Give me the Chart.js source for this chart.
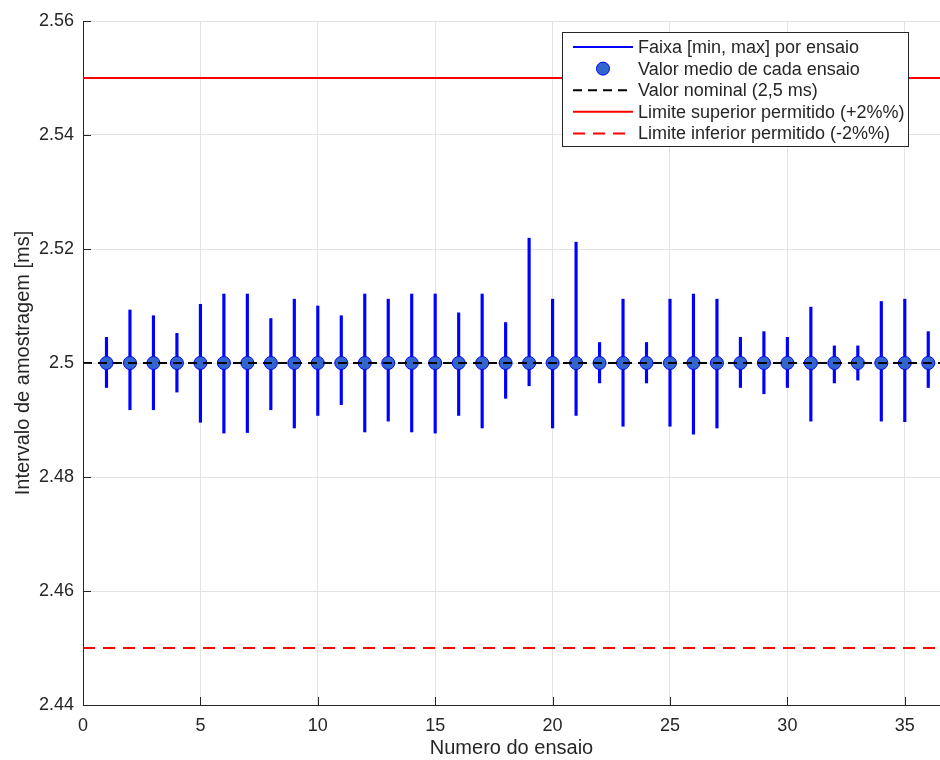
<!DOCTYPE html>
<html>
<head>
<meta charset="utf-8">
<script src="https://cdn.jsdelivr.net/npm/chart.js@4/dist/chart.umd.min.js"></script>
<style>
  html, body { margin: 0; padding: 0; background: #fff; }
  #graf { display: block; }
</style>
</head>
<body>
<canvas id="graf" width="940" height="760"></canvas>
<script>
// Ensaios e valores
const ensaios = [1, 2, 3, 4, 5, 6, 7, 8, 9, 10, 11, 12, 13, 14, 15, 16, 17, 18,
    19, 20, 21, 22, 23, 24, 25, 26, 27, 28, 29, 30, 31, 32, 33, 34, 35, 36]
const minimos = [2.4957, 2.4918, 2.4918, 2.4949, 2.4896, 2.4877, 2.4878, 2.4918, 2.4886,
    2.4908, 2.4927, 2.4879, 2.4898, 2.4879, 2.4877, 2.4908, 2.4886, 2.4938,
    2.4960, 2.4886, 2.4908, 2.4965, 2.4889, 2.4965, 2.4889, 2.4875, 2.4886,
    2.4957, 2.4946, 2.4957, 2.4898, 2.4965, 2.4970, 2.4898, 2.4897, 2.4957]
const maximos = [2.5045, 2.5093, 2.5083, 2.5052, 2.5103, 2.5121, 2.5121, 2.5078, 2.5112,
    2.5100, 2.5083, 2.5121, 2.5112, 2.5121, 2.5121, 2.5088, 2.5121, 2.5071,
    2.5219, 2.5112, 2.5212, 2.5036, 2.5112, 2.5036, 2.5112, 2.5121, 2.5112,
    2.5045, 2.5055, 2.5045, 2.5098, 2.5030, 2.5030, 2.5108, 2.5112, 2.5055]
const medias = [2.5, 2.5, 2.5, 2.5, 2.5, 2.5, 2.5, 2.5, 2.5, 2.5, 2.5, 2.5,
    2.5, 2.5, 2.5, 2.5, 2.5, 2.5, 2.5, 2.5, 2.5, 2.5, 2.5, 2.5,
    2.5, 2.5, 2.5, 2.5, 2.5, 2.5, 2.5, 2.5, 2.5, 2.5, 2.5, 2.5]

const nominal = 2.5
const limiteSup = 2.55
const limiteInf = 2.45

// Eixos
const xMin = 0, xMax = 36.5
const xTicks = [0, 5, 10, 15, 20, 25, 30, 35]
const yMin = 2.44, yMax = 2.56
const yTicks = [2.44, 2.46, 2.48, 2.5, 2.52, 2.54, 2.56]

const legendas = [
    'Faixa [min, max] por ensaio',
    'Valor medio de cada ensaio',
    'Valor nominal (2,5 ms)',
    'Limite superior permitido (+2%%)',
    'Limite inferior permitido (-2%%)'
]

const FONTE = '"Liberation Sans", Arial, Helvetica, sans-serif'
const COR_EIXO = '#262626'

function linhaHorizontal(valor) {
    return [{ x: xMin, y: valor }, { x: xMax, y: valor }]
}

// Ticks para dentro
const eixosPlugin = {
    id: 'eixos',
    afterDatasetsDraw(chart) {
        const { ctx, chartArea: a, scales } = chart
        ctx.save()
        ctx.strokeStyle = COR_EIXO
        ctx.lineWidth = 1
        ctx.beginPath()
        scales.x.ticks.forEach(t => {
            const px = Math.round(scales.x.getPixelForValue(t.value)) + 0.5
            ctx.moveTo(px, a.bottom)
            ctx.lineTo(px, a.bottom - 8)
        })
        scales.y.ticks.forEach(t => {
            const py = Math.round(scales.y.getPixelForValue(t.value)) + 0.5
            ctx.moveTo(a.left, py)
            ctx.lineTo(a.left + 8, py)
        })
        ctx.stroke()
        ctx.restore()
    }
}

// Legenda dentro do grafico
const legendaPlugin = {
    id: 'legendaInterna',
    afterDraw(chart) {
        const ctx = chart.ctx
        const bx = 562, by = 32, bw = 346, bh = 114
        ctx.save()
        ctx.fillStyle = '#fff'
        ctx.fillRect(bx, by, bw, bh)
        ctx.strokeStyle = COR_EIXO
        ctx.lineWidth = 1
        ctx.strokeRect(bx + 0.5, by + 0.5, bw, bh)

        chart.data.datasets.forEach((ds, k) => {
            const y = by + 15 + k * 21.6
            const x0 = bx + 11, x1 = bx + 71
            if (ds.type === 'line' && ds.showLine === false) {
                ctx.beginPath()
                ctx.arc((x0 + x1) / 2, y, ds.pointRadius, 0, Math.PI * 2)
                ctx.fillStyle = ds.pointBackgroundColor
                ctx.fill()
                ctx.lineWidth = ds.pointBorderWidth
                ctx.strokeStyle = ds.pointBorderColor
                ctx.stroke()
            } else {
                ctx.beginPath()
                ctx.setLineDash(ds.borderDash || [])
                ctx.strokeStyle = ds.type === 'bar' ? ds.backgroundColor : ds.borderColor
                ctx.lineWidth = 2
                ctx.moveTo(x0, y)
                ctx.lineTo(x1, y)
                ctx.stroke()
                ctx.setLineDash([])
            }
            ctx.fillStyle = COR_EIXO
            ctx.font = '18px ' + FONTE
            ctx.textBaseline = 'middle'
            ctx.textAlign = 'left'
            ctx.fillText(legendas[k], bx + 76, y + 1)
        })
        ctx.restore()
    }
}

const ctx = document.getElementById('graf').getContext('2d')
new Chart(ctx, {
    type: 'bar',
    data: {
        datasets: [
            {
                type: 'bar',
                label: legendas[0],
                data: ensaios.map((e, i) => ({ x: e, y: [minimos[i], maximos[i]] })),
                backgroundColor: '#0000ff',
                borderWidth: 0,
                barThickness: 2.5,
                grouped: false,
                order: 3
            },
            {
                type: 'line',
                label: legendas[1],
                data: ensaios.map((e, i) => ({ x: e, y: medias[i] })),
                showLine: false,
                pointRadius: 6.5,
                pointBackgroundColor: '#3366cc',
                pointBorderColor: '#0000ff',
                pointBorderWidth: 1,
                order: 1
            },
            {
                type: 'line',
                label: legendas[2],
                data: linhaHorizontal(nominal),
                borderColor: '#000000',
                borderWidth: 1.8,
                borderDash: [9, 6],
                pointRadius: 0,
                order: 0
            },
            {
                type: 'line',
                label: legendas[3],
                data: linhaHorizontal(limiteSup),
                borderColor: '#ff0000',
                borderWidth: 2,
                pointRadius: 0,
                order: 4
            },
            {
                type: 'line',
                label: legendas[4],
                data: linhaHorizontal(limiteInf),
                borderColor: '#ff0000',
                borderWidth: 2,
                borderDash: [12, 8],
                pointRadius: 0,
                order: 4
            }
        ]
    },
    options: {
        responsive: false,
        animation: false,
        layout: { autoPadding: false, padding: { top: 21, right: 0, left: 0, bottom: 0 } },
        plugins: {
            legend: { display: false },
            tooltip: { enabled: false }
        },
        scales: {
            x: {
                type: 'linear',
                min: xMin,
                max: xMax,
                offset: false,
                afterBuildTicks: s => { s.ticks = xTicks.map(v => ({ value: v })) },
                afterFit: s => { s.height = 55; s.paddingRight = 0; s.paddingLeft = 0 },
                ticks: {
                    color: COR_EIXO,
                    padding: 10,
                    maxRotation: 0,
                    autoSkip: false,
                    font: { family: FONTE, size: 18 }
                },
                grid: { color: '#e3e3e3', offset: false, drawTicks: false },
                border: { color: COR_EIXO, width: 1 },
                title: {
                    display: true,
                    text: 'Numero do ensaio',
                    color: COR_EIXO,
                    padding: { top: 0, bottom: 0 },
                    font: { family: FONTE, size: 20 }
                }
            },
            y: {
                min: yMin,
                max: yMax,
                afterBuildTicks: s => { s.ticks = yTicks.map(v => ({ value: v })) },
                afterFit: s => { s.width = 83 },
                ticks: {
                    color: COR_EIXO,
                    padding: 9,
                    autoSkip: false,
                    font: { family: FONTE, size: 18 },
                    callback: v => String(v)
                },
                grid: { color: '#e3e3e3', drawTicks: false },
                border: { color: COR_EIXO, width: 1 },
                title: {
                    display: true,
                    text: 'Intervalo de amostragem [ms]',
                    color: COR_EIXO,
                    padding: { top: 11, bottom: 0 },
                    font: { family: FONTE, size: 20 }
                }
            }
        }
    },
    plugins: [eixosPlugin, legendaPlugin]
})
</script>
</body>
</html>
